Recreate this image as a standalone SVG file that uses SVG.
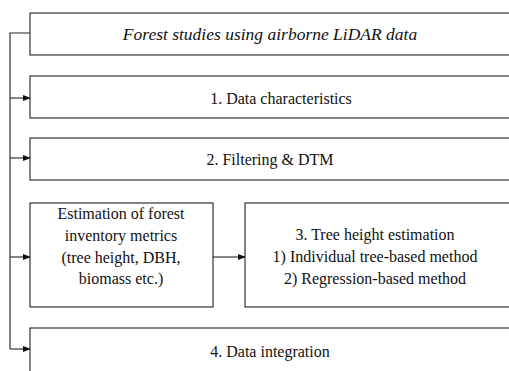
<svg xmlns="http://www.w3.org/2000/svg" width="509" height="371" viewBox="0 0 509 371">
<defs>
<style>
.box{fill:#fff;stroke:#222;stroke-width:1.1}
.ln{fill:none;stroke:#222;stroke-width:1.1}
</style>
<marker id="ah" markerWidth="8" markerHeight="6" refX="7" refY="3" orient="auto" markerUnits="userSpaceOnUse">
<path d="M0,0 L8,3 L0,6 z" fill="#111"/>
</marker>
</defs>
<rect width="509" height="371" fill="#fff"/>
<g id="connectors">
<path class="ln" d="M30,33 H10 V349"/>
<path class="ln" d="M10,98 H30" marker-end="url(#ah)"/>
<path class="ln" d="M10,158 H30" marker-end="url(#ah)"/>
<path class="ln" d="M10,257 H30" marker-end="url(#ah)"/>
<path class="ln" d="M10,349 H30" marker-end="url(#ah)"/>
<path class="ln" d="M213,257 H245" marker-end="url(#ah)"/>
</g>
<g id="title">
<rect class="box" x="30" y="13" width="482" height="42"/>
<text x="270" y="40" font-family="Liberation Serif" font-size="17.5" font-style="italic" fill="#111" text-anchor="middle">Forest studies using airborne LiDAR data</text>
</g>
<g id="n1">
<rect class="box" x="30" y="76" width="482" height="42"/>
<text x="281" y="104" font-family="Liberation Serif" font-size="16" fill="#111" text-anchor="middle">1. Data characteristics</text>
</g>
<g id="n2">
<rect class="box" x="30" y="138" width="482" height="42"/>
<text x="270" y="165" font-family="Liberation Serif" font-size="16" fill="#111" text-anchor="middle">2. Filtering &amp; DTM</text>
</g>
<g id="estimation">
<rect class="box" x="30" y="203" width="183" height="104"/>
<text x="121" y="219" font-family="Liberation Serif" font-size="16" fill="#111" text-anchor="middle">Estimation of forest</text>
<text x="121" y="241" font-family="Liberation Serif" font-size="16" fill="#111" text-anchor="middle">inventory metrics</text>
<text x="121" y="263" font-family="Liberation Serif" font-size="16" fill="#111" text-anchor="middle">(tree height, DBH,</text>
<text x="121" y="284" font-family="Liberation Serif" font-size="16" fill="#111" text-anchor="middle">biomass etc.)</text>
</g>
<g id="n3">
<rect class="box" x="245" y="203" width="267" height="104"/>
<text x="375" y="240" font-family="Liberation Serif" font-size="16" fill="#111" text-anchor="middle">3. Tree height estimation</text>
<text x="375" y="262" font-family="Liberation Serif" font-size="16" fill="#111" text-anchor="middle">1) Individual tree-based method</text>
<text x="375" y="284" font-family="Liberation Serif" font-size="16" fill="#111" text-anchor="middle">2) Regression-based method</text>
</g>
<g id="n4">
<rect class="box" x="30" y="328" width="482" height="50"/>
<text x="270" y="357" font-family="Liberation Serif" font-size="16" fill="#111" text-anchor="middle">4. Data integration</text>
</g>
</svg>
